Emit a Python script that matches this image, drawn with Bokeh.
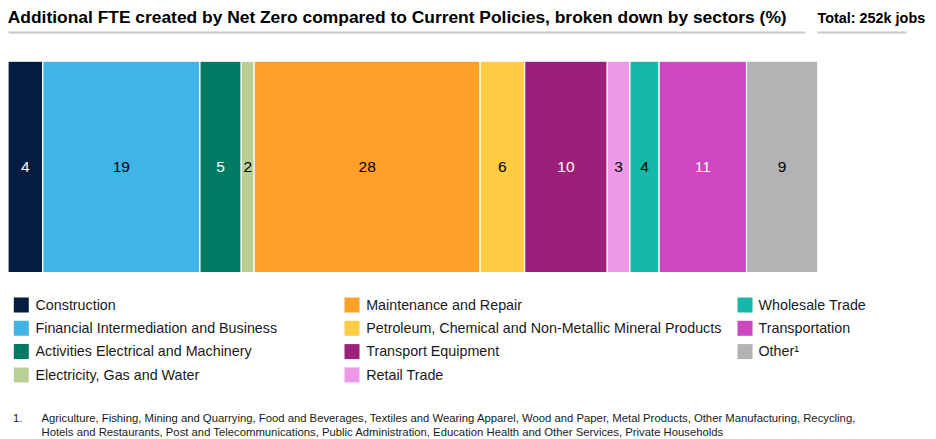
from bokeh.plotting import figure
from bokeh.models import Range1d, ColumnDataSource
from bokeh.core.properties import value
from bokeh.embed import file_html
from bokeh.resources import INLINE
import numpy as np

# ---------------- data ----------------
sectors = [
    "Construction",
    "Financial Intermediation and Business",
    "Activities Electrical and Machinery",
    "Electricity, Gas and Water",
    "Maintenance and Repair",
    "Petroleum, Chemical and Non-Metallic Mineral Products",
    "Transport Equipment",
    "Retail Trade",
    "Wholesale Trade",
    "Transportation",
    "Other\u00b9",
]
shares = [4.3, 19.4, 5.1, 1.6, 27.9, 5.5, 10.2, 2.8, 3.6, 10.8, 8.8]
share_labels = ["4", "19", "5", "2", "28", "6", "10", "3", "4", "11", "9"]
colors = ["#031C40", "#41B4E6", "#007A62", "#B8CF96", "#FFA028", "#FFCC44",
          "#9C1F7A", "#EE99E8", "#15B8A8", "#CC47C0", "#B3B3B3"]
label_colors = ["white", "black", "white", "black", "black", "black",
                "white", "black", "black", "white", "black"]
legend_columns = [[0, 1, 2, 3], [4, 5, 6, 7], [8, 9, 10]]

title = "Additional FTE created by Net Zero compared to Current Policies, broken down by sectors (%)"
total = "Total: 252k jobs"
footnote_mark = "1."
footnote_lines = [
    "Agriculture, Fishing, Mining and Quarrying, Food and Beverages, Textiles and Wearing Apparel, Wood and Paper, Metal Products, Other Manufacturing, Recycling,",
    "Hotels and Restaurants, Post and Telecommunications, Public Administration, Education Health and Other Services, Private Households",
]

# ---------------- layout ----------------
W, H = 936, 439
BAR_X0 = 7.5      # page x of 0 %
BAR_W = 809.8     # pixels for 100 %
FONT = "Liberation Sans"
TXT = "#1a1a1a"
SHIFT = 0.4       # empirical baseline correction (em)


def X(px):
    return (px - BAR_X0) * 100.0 / BAR_W


def Y(py):
    return H - py


p = figure(width=W, height=H,
           x_range=Range1d(X(0), X(W)), y_range=Range1d(0, H),
           output_backend="svg", toolbar_location=None, min_border=0,
           x_axis_location=None, y_axis_location=None)
p.grid.visible = False
p.outline_line_color = None
p.background_fill_color = "white"
p.border_fill_color = "white"

right = np.cumsum(shares)
left = right - np.array(shares)
src = ColumnDataSource(dict(left=left, right=right, mid=(left + right) / 2,
                            color=colors, label=share_labels, tcolor=label_colors))
p.quad(left="left", right="right", bottom=Y(272), top=Y(60.7), fill_color="color",
       line_color="white", line_width=1.2, source=src)
p.text(x="mid", y=Y(173 - SHIFT * 15.5), text="label", text_color="tcolor", text_align="center",
       text_baseline="alphabetic", text_font=value(FONT), text_font_size="15.5px", source=src)


def put(px, py, txt, size, bold=False, color=TXT, align="left"):
    p.text(x=[X(px)], y=[Y(py - SHIFT * size)], text=[txt], text_font=value(FONT),
           text_font_style="bold" if bold else "normal", text_font_size=f"{size}px",
           text_color=color, text_align=align, text_baseline="alphabetic")


# title & total
put(7.3, 23.3, title, 17.4, bold=True, color="black")
put(817, 23.3, total, 14.4, bold=True, color="black")
p.segment(x0=[X(8), X(817)], x1=[X(805), X(906)], y0=[Y(32)] * 2, y1=[Y(32)] * 2,
          line_color="#C8C8C8", line_width=2)

# legend
col_sq_x = [20.8, 351.5, 744.5]
col_tx_x = [35, 365.7, 758]
row_y = [304.5, 327.8, 351.1, 374.4]
for c, idxs in enumerate(legend_columns):
    for r, i in enumerate(idxs):
        p.rect(x=[X(col_sq_x[c])], y=[Y(row_y[r])], width=15, height=15,
               width_units="screen", height_units="screen",
               fill_color=colors[i], line_color=None)
        put(col_tx_x[c], row_y[r] + 5.6, sectors[i], 14.3)

# footnote
put(12.5, 422.5, footnote_mark, 11.3)
for k, line in enumerate(footnote_lines):
    put(41, 422.5 + 13.5 * k, line, 11.3)

open("out.html", "w").write(file_html(p, INLINE))
